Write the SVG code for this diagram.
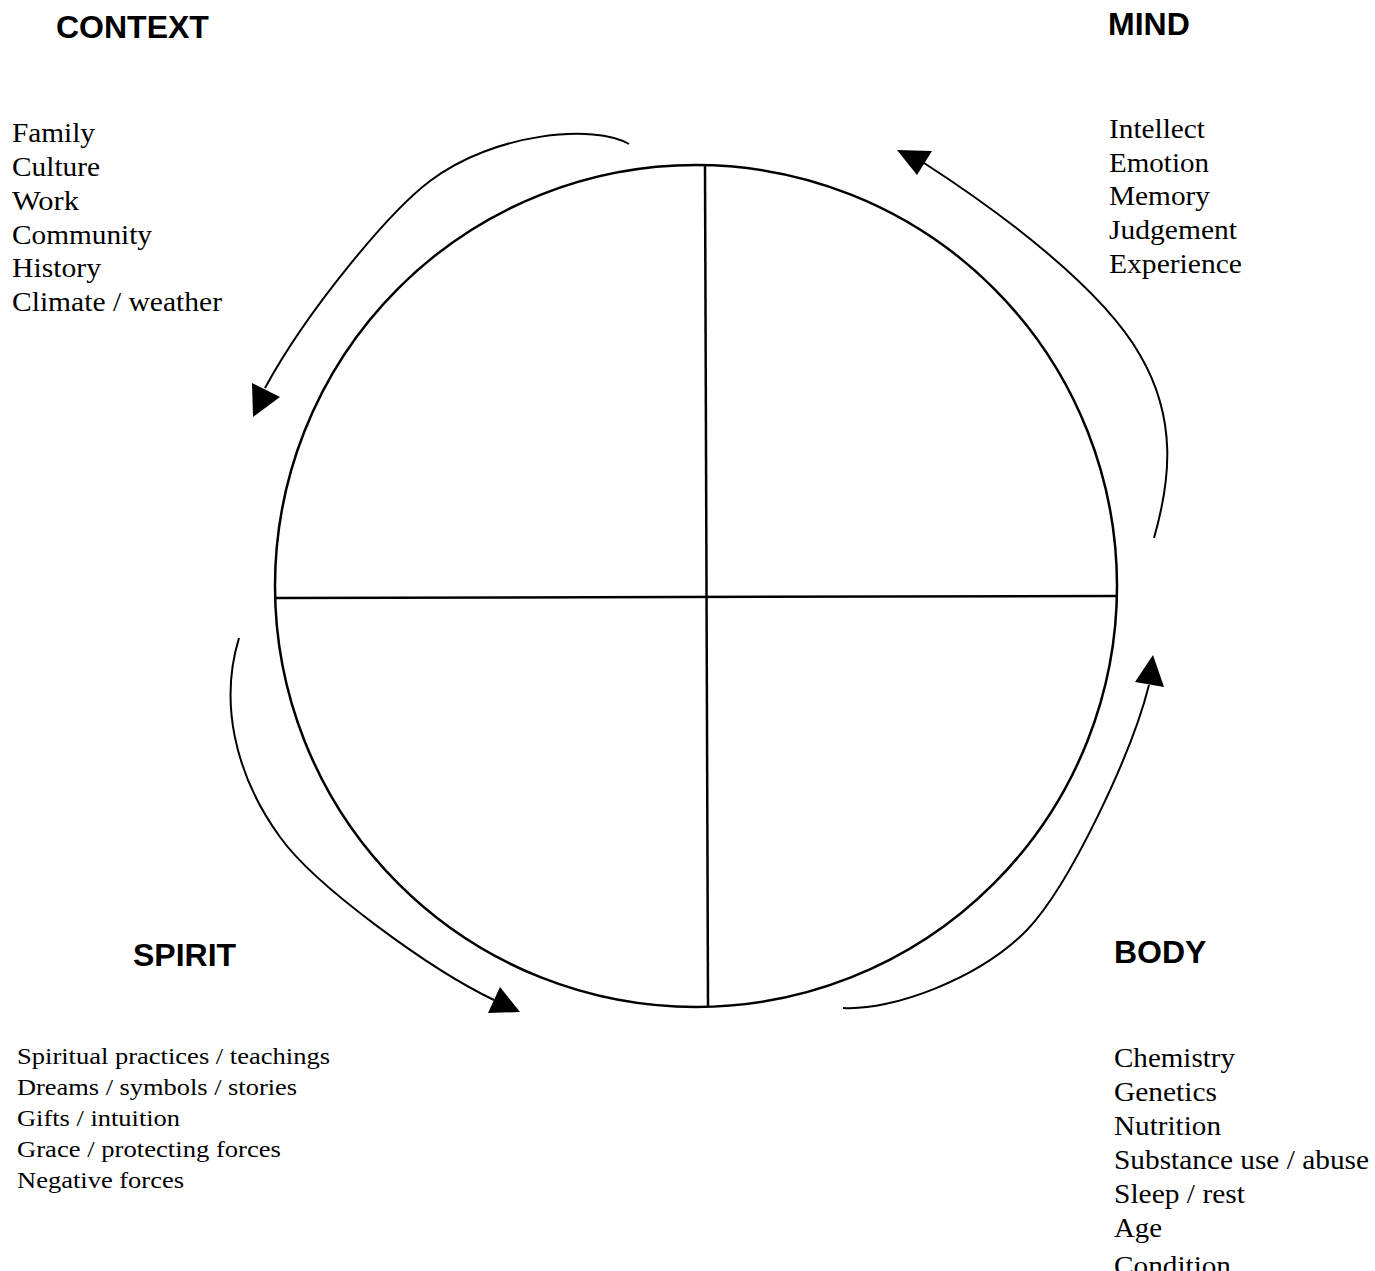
<svg xmlns="http://www.w3.org/2000/svg" width="1375" height="1271" viewBox="0 0 1375 1271">
<style>
.title{font-family:"Liberation Sans",Arial,sans-serif;font-weight:bold;font-size:32px;fill:#000}
.item{font-family:"Liberation Serif","Times New Roman",serif;font-size:27px;fill:#000}
.sp{font-size:24px}
.wheel{fill:none;stroke:#000;stroke-width:2.5}
.arc{fill:none;stroke:#000;stroke-width:2}
.head{fill:#000;stroke:none}
</style>
<rect width="1375" height="1271" fill="#fff"/>
<g id="wheel">
<circle class="wheel" cx="696" cy="586" r="421"/>
<line class="wheel" x1="275" y1="598" x2="1117" y2="596"/>
<line class="wheel" x1="705" y1="166" x2="708" y2="1006"/>
</g>
<g id="context">
<text class="title" x="56" y="38">CONTEXT</text>
<text class="item" x="12" y="142" textLength="83" lengthAdjust="spacingAndGlyphs">Family</text>
<text class="item" x="12" y="176" textLength="88" lengthAdjust="spacingAndGlyphs">Culture</text>
<text class="item" x="12" y="210" textLength="67" lengthAdjust="spacingAndGlyphs">Work</text>
<text class="item" x="12" y="244" textLength="140" lengthAdjust="spacingAndGlyphs">Community</text>
<text class="item" x="12" y="277" textLength="89" lengthAdjust="spacingAndGlyphs">History</text>
<text class="item" x="12" y="311" textLength="210" lengthAdjust="spacingAndGlyphs">Climate / weather</text>
</g>
<g id="mind">
<text class="title" x="1108" y="35">MIND</text>
<text class="item" x="1109" y="138" textLength="96" lengthAdjust="spacingAndGlyphs">Intellect</text>
<text class="item" x="1109" y="172" textLength="100" lengthAdjust="spacingAndGlyphs">Emotion</text>
<text class="item" x="1109" y="205" textLength="101" lengthAdjust="spacingAndGlyphs">Memory</text>
<text class="item" x="1109" y="239" textLength="128" lengthAdjust="spacingAndGlyphs">Judgement</text>
<text class="item" x="1109" y="273" textLength="133" lengthAdjust="spacingAndGlyphs">Experience</text>
</g>
<g id="spirit">
<text class="title" x="133" y="966">SPIRIT</text>
<text class="item sp" x="17" y="1064" textLength="313" lengthAdjust="spacingAndGlyphs">Spiritual practices / teachings</text>
<text class="item sp" x="17" y="1095" textLength="280" lengthAdjust="spacingAndGlyphs">Dreams / symbols / stories</text>
<text class="item sp" x="17" y="1126" textLength="163" lengthAdjust="spacingAndGlyphs">Gifts / intuition</text>
<text class="item sp" x="17" y="1157" textLength="264" lengthAdjust="spacingAndGlyphs">Grace / protecting forces</text>
<text class="item sp" x="17" y="1188" textLength="167" lengthAdjust="spacingAndGlyphs">Negative forces</text>
</g>
<g id="body">
<text class="title" x="1114" y="963">BODY</text>
<text class="item" x="1114" y="1067" textLength="121" lengthAdjust="spacingAndGlyphs">Chemistry</text>
<text class="item" x="1114" y="1101" textLength="103" lengthAdjust="spacingAndGlyphs">Genetics</text>
<text class="item" x="1114" y="1135" textLength="107" lengthAdjust="spacingAndGlyphs">Nutrition</text>
<text class="item" x="1114" y="1169" textLength="255" lengthAdjust="spacingAndGlyphs">Substance use / abuse</text>
<text class="item" x="1114" y="1203" textLength="131" lengthAdjust="spacingAndGlyphs">Sleep / rest</text>
<text class="item" x="1114" y="1237" textLength="48" lengthAdjust="spacingAndGlyphs">Age</text>
<text class="item" x="1114" y="1275" textLength="117" lengthAdjust="spacingAndGlyphs">Condition</text>
</g>
<g id="connectors">
<path class="arc" d="M629,144 C595,124 495,132 430,181 C390,211 308,309 265,388"/>
<polygon class="head" points="253,417 252,383 280,397"/>
<path class="arc" d="M1154,538 C1170,482 1178,420 1140,355 C1102,288 1000,212 924,163"/>
<polygon class="head" points="897,150 932,151 917,175"/>
<path class="arc" d="M239,638 C220,700 233,772 280,837 C315,886 431,970 494,1000"/>
<polygon class="head" points="520,1012 488,1013 500,987"/>
<path class="arc" d="M843,1008 C893,1011 980,978 1027,930 C1070,885 1132,753 1149,685"/>
<polygon class="head" points="1153,655 1135,682 1164,687"/>
</g>
</svg>
